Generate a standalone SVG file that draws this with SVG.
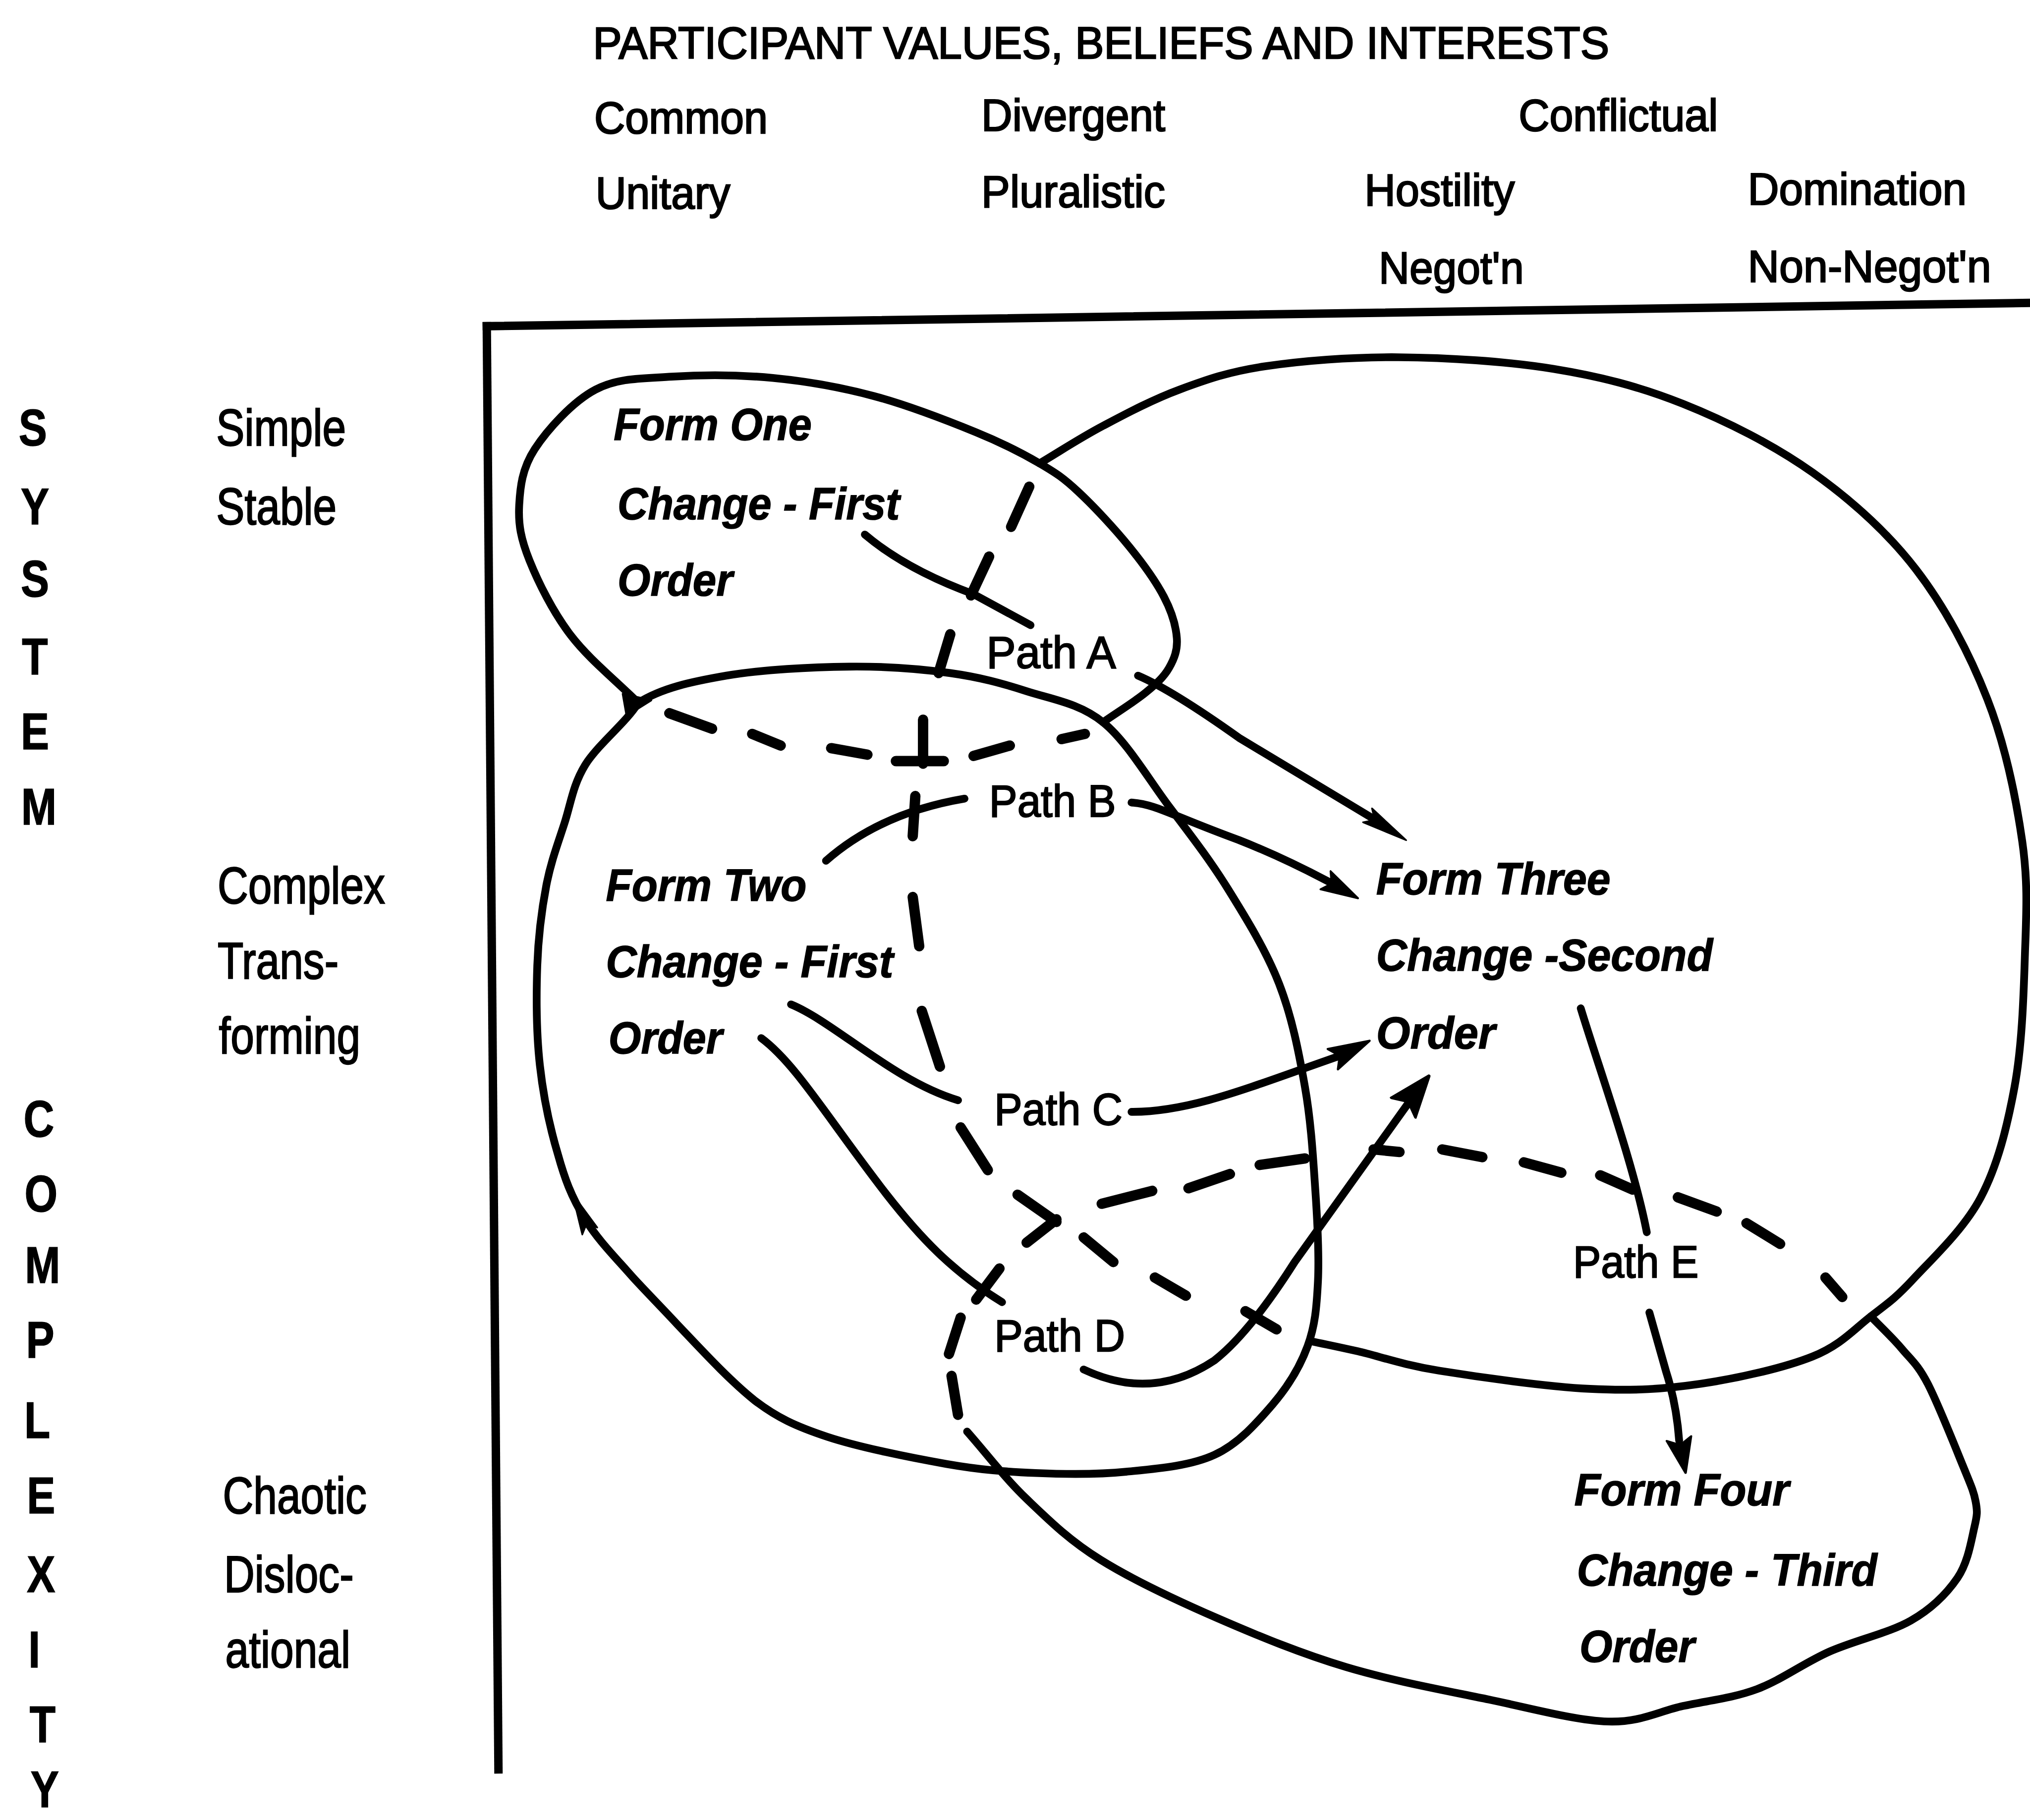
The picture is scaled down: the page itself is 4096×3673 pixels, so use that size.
<svg xmlns="http://www.w3.org/2000/svg" xmlns:xlink="http://www.w3.org/1999/xlink" width="4096" height="3673" viewBox="0 0 4096 3673">
  <style>
    text { font-family: "Liberation Sans", Arial, sans-serif; fill: #000; stroke: #000; }
    .hdr { font-size: 35px; stroke-width: 1px; }
    .lbl { font-size: 35px; stroke-width: 0.9px; }
    .form { font-size: 35px; font-weight: bold; font-style: italic; stroke-width: 0.6px; }
    .axl { font-size: 40px; font-weight: bold; text-anchor: middle; stroke-width: 0.6px; }
    .row { font-size: 40px; stroke-width: 0.9px; }
    .solid { fill: none; stroke: #000; stroke-width: 6; stroke-linecap: round; stroke-linejoin: round; }
    .dash { fill: none; stroke: #000; stroke-width: 8; stroke-linecap: round; }
    .link { fill: none; stroke: #000; stroke-width: 6; stroke-linecap: round; stroke-linejoin: round; }
    .axis { fill: none; stroke: #000; stroke-width: 6.5; stroke-linecap: square; }
    .head { fill: #000; stroke: #000; stroke-width: 1.5; stroke-linejoin: round; }
  </style>
  <defs>
    <!-- arrowhead, tip at the origin, pointing along +x -->
    <path id="head" d="M0,0 L-32,-8 L-26,0 L-32,8 Z"/>
  </defs>
  <rect width="4096" height="3673" fill="#fff"/>
  <g transform="scale(2.6122449)">

    <!-- column headings: participant values -->
    <g id="column-headings">
      <text class="hdr" x="458" y="45" textLength="785" lengthAdjust="spacingAndGlyphs">PARTICIPANT VALUES, BELIEFS AND INTERESTS</text>
      <text class="hdr" x="459" y="103" textLength="134" lengthAdjust="spacingAndGlyphs">Common</text>
      <text class="hdr" x="758" y="101" textLength="142" lengthAdjust="spacingAndGlyphs">Divergent</text>
      <text class="hdr" x="1173" y="101" textLength="154" lengthAdjust="spacingAndGlyphs">Conflictual</text>
      <text class="hdr" x="460" y="161" textLength="104" lengthAdjust="spacingAndGlyphs">Unitary</text>
      <text class="hdr" x="758" y="160" textLength="142" lengthAdjust="spacingAndGlyphs">Pluralistic</text>
      <text class="hdr" x="1054" y="159" textLength="116" lengthAdjust="spacingAndGlyphs">Hostility</text>
      <text class="hdr" x="1350" y="158" textLength="169" lengthAdjust="spacingAndGlyphs">Domination</text>
      <text class="hdr" x="1065" y="219" textLength="112" lengthAdjust="spacingAndGlyphs">Negot'n</text>
      <text class="hdr" x="1350" y="218" textLength="188" lengthAdjust="spacingAndGlyphs">Non-Negot'n</text>
    </g>

    <!-- row headings: system complexity (narrow face) -->
    <g id="row-headings" transform="scale(0.82,1)">
      <text class="axl" x="31" y="344">S</text>
      <text class="axl" x="32.9" y="405">Y</text>
      <text class="axl" x="32.9" y="461">S</text>
      <text class="axl" x="32.9" y="521">T</text>
      <text class="axl" x="32.9" y="579">E</text>
      <text class="axl" x="36.6" y="637">M</text>
      <text class="axl" x="36.6" y="878">C</text>
      <text class="axl" x="38.7" y="936">O</text>
      <text class="axl" x="40.1" y="991">M</text>
      <text class="axl" x="37.8" y="1049">P</text>
      <text class="axl" x="35.1" y="1111">L</text>
      <text class="axl" x="38.7" y="1169">E</text>
      <text class="axl" x="38.7" y="1230">X</text>
      <text class="axl" x="32.3" y="1288">I</text>
      <text class="axl" x="40.1" y="1346">T</text>
      <text class="axl" x="42.2" y="1396">Y</text>

      <text class="row" x="203.7" y="344">Simple</text>
      <text class="row" x="203.7" y="405">Stable</text>
      <text class="row" x="204.9" y="698">Complex</text>
      <text class="row" x="204.9" y="756">Trans-</text>
      <text class="row" x="206.1" y="814">forming</text>
      <text class="row" x="209.8" y="1169">Chaotic</text>
      <text class="row" x="211" y="1230">Disloc-</text>
      <text class="row" x="212.2" y="1288">ational</text>
    </g>

    <!-- frame axes -->
    <g id="axes">
      <path class="axis" d="M376,252 L385,1367"/>
      <path class="axis" d="M376,252 L1568,234"/>
    </g>

    <!-- Form One: first-order change, simple/stable -->
    <g id="form-one">
      <path class="solid" d="M493,543 C475.7,525.7 455,509.3 441,491 C427,472.7 415.7,449.7 409,433 C402.3,416.3 400.3,405.3 401,391 C401.7,376.7 403.2,362 413,347 C422.8,332 442.3,310.3 460,301 C477.7,291.7 496.2,292.5 519,291 C541.8,289.5 571,289.5 597,292 C623,294.5 648.8,299 675,306 C701.2,313 732.7,325.3 754,334 C775.3,342.7 789.8,350.3 803,358 C816.2,365.7 821.5,369.3 833,380 C844.5,390.7 861,408.5 872,422 C883,435.5 892.8,449.2 899,461 C905.2,472.8 908.3,483.8 909,493 C909.7,502.2 907,509 903,516 C899,523 893.5,528 885,535 C876.5,542 863,550.3 852,558"/>
      <path class="dash" d="M517,551 L550,563 M581,567 L603,576 M642,578 L670,583 M692,588 L729,588 M752,584 L780,576 M820,571 L838,567"/>
      <polygon class="head" points="481,536 484,553 503,541"/>
      <text class="form" x="474" y="340" textLength="153" lengthAdjust="spacingAndGlyphs">Form One</text>
      <text class="form" x="477" y="401" textLength="218" lengthAdjust="spacingAndGlyphs">Change - First</text>
      <text class="form" x="477" y="460" textLength="89" lengthAdjust="spacingAndGlyphs">Order</text>
    </g>

    <!-- Form Two: first-order change, complex/transforming -->
    <g id="form-two">
      <path class="solid" d="M493,543 C511.2,531.5 533.8,526.7 561,522 C588.2,517.3 627.2,515.3 656,515 C684.8,514.7 711.2,516.8 734,520 C756.8,523.2 773.3,527.7 793,534 C812.7,540.3 833.7,543.2 852,558 C870.3,572.8 887,601.7 903,623 C919,644.3 933.8,663.2 948,686 C962.2,708.8 978,734.3 988,760 C998,785.7 1003.3,813.3 1008,840 C1012.7,866.7 1014.3,895 1016,920 C1017.7,945 1019,970 1018,990 C1017,1010 1015.8,1024.2 1010,1040 C1004.2,1055.8 995,1071 983,1085 C971,1099 956.8,1115.3 938,1124 C919.2,1132.7 893,1134.7 870,1137 C847,1139.3 823.2,1139 800,1138 C776.8,1137 757.8,1135.7 731,1131 C704.2,1126.3 663.7,1118.2 639,1110 C614.3,1101.8 600,1095 583,1082 C563,1066 542,1043 523,1023 C510,1009 500,999 489,987 C474,970 462,958 452,942 C441,924 436,910 431,892 C424.8,871.3 419.7,847.3 417,823 C414.3,798.7 414.2,769.2 415,746 C415.8,722.8 418.5,702.3 422,684 C425.5,665.7 431,651.5 436,636 C441,620.5 442.5,606.5 452,591 C461.5,575.5 483.5,558.5 493,543 Z"/>
      <use href="#head" class="head" transform="translate(442,922) rotate(-115) scale(1,0.8)"/>
      <text class="form" x="468" y="696" textLength="155" lengthAdjust="spacingAndGlyphs">Form Two</text>
      <text class="form" x="468" y="755" textLength="222" lengthAdjust="spacingAndGlyphs">Change - First</text>
      <text class="form" x="470" y="814" textLength="88" lengthAdjust="spacingAndGlyphs">Order</text>
    </g>

    <!-- Form Three: second-order change -->
    <g id="form-three">
      <path class="solid" d="M803,358 C819.3,348.3 834,338.5 852,329 C870,319.5 890.2,308.7 911,301 C931.8,293.3 948.8,287.2 977,283 C1005.2,278.8 1042.8,275.7 1080,276 C1117.2,276.3 1163.3,279 1200,285 C1236.7,291 1266.7,298.7 1300,312 C1333.3,325.3 1370,343.7 1400,365 C1430,386.3 1457.5,410.8 1480,440 C1502.5,469.2 1521.3,505 1535,540 C1548.7,575 1557.2,616.7 1562,650 C1566.8,683.3 1565,708.3 1564,740 C1563,771.7 1561.7,809.2 1556,840 C1550.3,870.8 1543,900.3 1530,925 C1517,949.7 1492.2,972.7 1478,988 C1463.8,1003.3 1458,1007 1445,1017 C1432,1027 1421.8,1039.3 1400,1048 C1378.2,1056.7 1342.7,1064.8 1314,1069 C1285.3,1073.2 1261.7,1074.7 1228,1073 C1194.3,1071.3 1141.8,1063.8 1112,1059 C1082.2,1054.2 1065.7,1047.8 1049,1044 C1032.3,1040.2 1024.3,1038.7 1012,1036"/>
      <path class="dash" d="M795,376 L781,407 M764,430 L750,460 M734,490 L725,520 M713,556 L713,590 M707,615 L705,646 M705,693 L710,731 M712,781 L726,824 M742,871 L763,904 M786,923 L816,944 M837,956 L860,975 M892,987 L916,1001 M962,1013 L986,1027"/>
      <text class="form" x="1063" y="691" textLength="181" lengthAdjust="spacingAndGlyphs">Form Three</text>
      <text class="form" x="1063" y="750" textLength="260" lengthAdjust="spacingAndGlyphs">Change -Second</text>
      <text class="form" x="1063" y="810" textLength="92" lengthAdjust="spacingAndGlyphs">Order</text>
    </g>

    <!-- Form Four: third-order change, chaotic/dislocational -->
    <g id="form-four">
      <path class="solid" d="M1445,1017 C1453,1025.3 1461.7,1033.3 1469,1042 C1476.3,1050.7 1481.2,1054 1489,1069 C1496.8,1084 1509.8,1116.8 1516,1132 C1522.2,1147.2 1524.5,1152 1526,1160 C1527.5,1168 1527.3,1170.2 1525,1180 C1522.7,1189.8 1520.2,1207 1512,1219 C1503.8,1231 1492.5,1242.5 1476,1252 C1459.5,1261.5 1432.8,1267.2 1413,1276 C1393.2,1284.8 1375.8,1298 1357,1305 C1338.2,1312 1319.2,1313.8 1300,1318 C1280.8,1322.2 1267,1330.8 1242,1330 C1217,1329.2 1183.7,1320 1150,1313 C1116.3,1306 1075,1298.5 1040,1288 C1005,1277.5 971.7,1263.8 940,1250 C908.3,1236.2 874.5,1220.3 850,1205 C825.5,1189.7 810.2,1174.5 793,1158 C775.8,1141.5 762.3,1123.3 747,1106"/>
      <path class="dash" d="M740,1093 L735,1063 M733,1046 L742,1018 M772,980 L754,1004 M793,960 L816,942 M851,930 L890,920 M918,918 L950,907 M973,900 L1008,895 M1061,888 L1081,890 M1114,888 L1145,894 M1177,898 L1206,906 M1236,908 L1261,919 M1296,925 L1326,936 M1349,945 L1375,961 M1410,987 L1423,1002"/>
      <text class="form" x="1216" y="1163" textLength="166" lengthAdjust="spacingAndGlyphs">Form Four</text>
      <text class="form" x="1218" y="1225" textLength="232" lengthAdjust="spacingAndGlyphs">Change - Third</text>
      <text class="form" x="1220" y="1284" textLength="89" lengthAdjust="spacingAndGlyphs">Order</text>
    </g>

    <!-- change paths between the forms -->
    <g id="connectors">
      <g id="path-a">
        <path class="link" d="M668,413 Q700,440 752,459 L796,483"/>
        <path class="link" d="M879,522 Q905,533 957,570 L1060,632"/>
        <use href="#head" class="head" transform="translate(1086,649) rotate(32.7) scale(1.1,0.8)"/>
        <text class="lbl" x="762" y="516" textLength="100" lengthAdjust="spacingAndGlyphs">Path A</text>
      </g>
      <g id="path-b">
        <path class="link" d="M638,665 Q680,628 745,617"/>
        <path class="link" d="M874,620 C892,621 905,630 957,649 Q990,662 1026,681"/>
        <use href="#head" class="head" transform="translate(1049,694) rotate(29) scale(0.9,1)"/>
        <text class="lbl" x="764" y="631" textLength="98" lengthAdjust="spacingAndGlyphs">Path B</text>
      </g>
      <g id="path-c">
        <path class="link" d="M611,776 C645,790 690,835 740,850"/>
        <path class="link" d="M874,859 C920,859 965,840 1034,816"/>
        <use href="#head" class="head" transform="translate(1058,804) rotate(-26.6) scale(1,1.1)"/>
        <text class="lbl" x="768" y="869" textLength="99" lengthAdjust="spacingAndGlyphs">Path C</text>
      </g>
      <g id="path-d">
        <path class="link" d="M588,802 C615,822 640,865 685,923 C710,955 735,982 774,1006"/>
        <path class="link" d="M837,1058 Q890,1083 938,1051 Q965,1030 1000,975 L1088,852"/>
        <use href="#head" class="head" transform="translate(1104,831) rotate(-51) scale(1,1.5)"/>
        <text class="lbl" x="768" y="1044" textLength="101" lengthAdjust="spacingAndGlyphs">Path D</text>
      </g>
      <g id="path-e">
        <path class="link" d="M1221,779 C1235,825 1262,900 1272,952"/>
        <path class="link" d="M1274,1014 L1287,1060 Q1295,1085 1297,1113"/>
        <use href="#head" class="head" transform="translate(1302,1138) rotate(79) scale(0.85,1.2)"/>
        <text class="lbl" x="1215" y="987" textLength="97" lengthAdjust="spacingAndGlyphs">Path E</text>
      </g>
    </g>
  </g>
</svg>
